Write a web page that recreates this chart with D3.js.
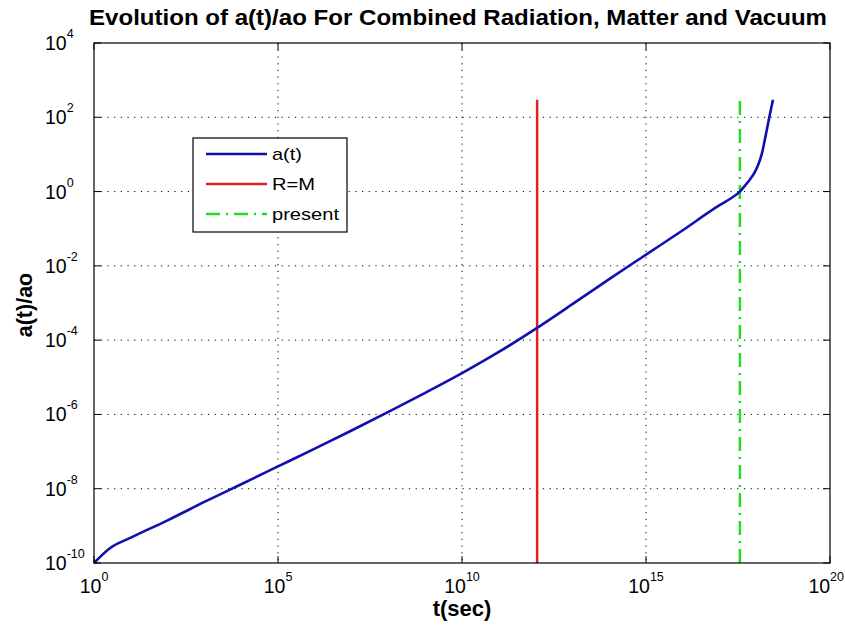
<!DOCTYPE html>
<html><head><meta charset="utf-8">
<script src="https://cdn.jsdelivr.net/npm/d3@7"></script>
<style>body{margin:0;background:#fff}svg{display:block;font-family:"Liberation Sans",Arial,sans-serif}</style>
</head><body><svg id="c" width="845" height="631"></svg>
<script>
const tValues = [1, 2.7, 10, 100, 1e3, 1e4, 1e5, 1e6, 1e7, 1e8, 1e9, 1e10, 1e11, 1.1e12, 1e13, 1e14, 1e15, 1e16, 1e17, 2.0e17, 3.55e17, 5.0e17, 6.6e17, 8.9e17, 1.12e18, 1.41e18, 1.78e18, 2.24e18, 2.82e18];
const aValues = [1e-10, 2.5e-10, 4.8e-10, 1.41e-9, 4.4e-9, 1.32e-8, 3.98e-8, 1.2e-7, 3.7e-7, 1.17e-6, 3.8e-6, 1.29e-5, 4.8e-5, 2.14e-4, 9.3e-4, 4.4e-3, 2.0e-2, 9.1e-2, 0.43, 0.65, 1.0, 1.48, 2.09, 3.24, 5.25, 10.5, 31.6, 100, 295];
const rmT = 1.1e12;
const presentT = 3.55e17;
const vLineRange = [1e-10, 295];
const xTickExps = [0, 5, 10, 15, 20];
const yTickExps = [-10, -8, -6, -4, -2, 0, 2, 4];
const legendLabels = ["a(t)", "R=M", "present"];
const title = "Evolution of a(t)/ao For Combined Radiation, Matter and Vacuum";
const xLabel = "t(sec)", yLabel = "a(t)/ao";

const L = 94, R = 830, T = 43, B = 563;
const svg = d3.select("#c");
const x = d3.scaleLog().domain([1, 1e20]).range([L, R]);
const y = d3.scaleLog().domain([1e-10, 1e4]).range([B, T]);

// grid
const g = svg.append("g");
xTickExps.slice(1, -1).forEach(e => {
  g.append("line").attr("x1", x(10 ** e)).attr("x2", x(10 ** e)).attr("y1", T).attr("y2", B)
    .attr("stroke", "#000").attr("stroke-width", 1).attr("stroke-dasharray", "1.2,5.5");
});
yTickExps.slice(1, -1).forEach(e => {
  g.append("line").attr("y1", y(10 ** e)).attr("y2", y(10 ** e)).attr("x1", L).attr("x2", R)
    .attr("stroke", "#000").attr("stroke-width", 1).attr("stroke-dasharray", "1.2,5.5");
});

// data lines
svg.append("line").attr("x1", x(rmT)).attr("x2", x(rmT)).attr("y1", y(vLineRange[0])).attr("y2", y(vLineRange[1]))
  .attr("stroke", "#dd2222").attr("stroke-width", 2.5);
svg.append("line").attr("x1", x(presentT)).attr("x2", x(presentT)).attr("y1", y(vLineRange[0])).attr("y2", y(vLineRange[1]))
  .attr("stroke", "#22dd22").attr("stroke-width", 2.5).attr("stroke-dasharray", "14,6,2,6");
const pts = tValues.map((t, i) => [t, aValues[i]]);
svg.append("path").datum(pts)
  .attr("d", d3.line().x(d => x(d[0])).y(d => y(d[1])).curve(d3.curveMonotoneX))
  .attr("fill", "none").attr("stroke", "#1010b0").attr("stroke-width", 2.6).attr("stroke-linejoin", "round");

// box and ticks
svg.append("rect").attr("x", L).attr("y", T).attr("width", R - L).attr("height", B - T)
  .attr("fill", "none").attr("stroke", "#000").attr("stroke-width", 1.2);
const tk = 7;
xTickExps.forEach((e, i) => {
  const xx = x(10 ** e);
  svg.append("line").attr("x1", xx).attr("x2", xx).attr("y1", B).attr("y2", B - tk).attr("stroke", "#000");
  svg.append("line").attr("x1", xx).attr("x2", xx).attr("y1", T).attr("y2", T + tk).attr("stroke", "#000");
  const last = i === xTickExps.length - 1;
  const tx = svg.append("text").attr("x", last ? 844 : xx).attr("y", 593).attr("text-anchor", last ? "end" : "middle")
    .attr("font-size", 19.5).attr("fill", "#000");
  tx.append("tspan").text("10");
  tx.append("tspan").attr("dy", -12).attr("font-size", 12.5).text(e);
});
yTickExps.forEach(e => {
  const yy = y(10 ** e);
  svg.append("line").attr("x1", L).attr("x2", L + tk).attr("y1", yy).attr("y2", yy).attr("stroke", "#000");
  svg.append("line").attr("x1", R).attr("x2", R - tk).attr("y1", yy).attr("y2", yy).attr("stroke", "#000");
  const tx = svg.append("text").attr("x", 45).attr("y", yy + 7).attr("text-anchor", "start")
    .attr("font-size", 19.5).attr("fill", "#000");
  tx.append("tspan").text("10");
  tx.append("tspan").attr("dy", -12).attr("font-size", 12.5).text(e);
});

// titles
svg.append("text").attr("x", 458).attr("y", 25).attr("text-anchor", "middle")
  .attr("font-size", 21.5).attr("font-weight", "bold").attr("textLength", 738).attr("lengthAdjust", "spacingAndGlyphs").text(title);
svg.append("text").attr("x", 462).attr("y", 616).attr("text-anchor", "middle")
  .attr("font-size", 22).attr("font-weight", "bold").text(xLabel);
svg.append("text").attr("transform", "translate(32,305) rotate(-90)").attr("text-anchor", "middle")
  .attr("font-size", 21.5).attr("font-weight", "bold").text(yLabel);

// legend
const lg = svg.append("g");
lg.append("rect").attr("x", 193).attr("y", 138).attr("width", 154).attr("height", 94)
  .attr("fill", "#fff").attr("stroke", "#000").attr("stroke-width", 1.2);
const lstyles = [
  {c: "#1010b0", d: null}, {c: "#dd2222", d: null}, {c: "#22dd22", d: "14,6,2,6"}
];
const lw = [30, 43, 67];
legendLabels.forEach((lab, i) => {
  const yy = 154 + i * 30;
  const ln = lg.append("line").attr("x1", 206).attr("x2", 267).attr("y1", yy).attr("y2", yy)
    .attr("stroke", lstyles[i].c).attr("stroke-width", 2.5);
  if (lstyles[i].d) ln.attr("stroke-dasharray", lstyles[i].d);
  lg.append("text").attr("x", 272).attr("y", yy + 6).attr("font-size", 17)
    .attr("textLength", lw[i]).attr("lengthAdjust", "spacingAndGlyphs").text(lab);
});
</script></body></html>
